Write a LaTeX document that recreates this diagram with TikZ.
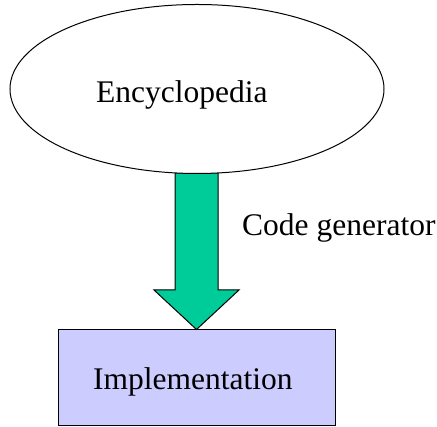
\documentclass[tikz,border=0pt]{standalone}
\usepackage{fontspec}
\setmainfont{Liberation Serif}
\usetikzlibrary{shapes.geometric,calc}
\definecolor{arrowgreen}{HTML}{00CC99}
\definecolor{implfill}{HTML}{CCCCFF}
\tikzset{
  lbl/.style={font=\fontsize{31.5}{36}\selectfont, inner sep=0pt, anchor=base west},
  outline/.style={draw=black, line width=1pt},
}
\begin{document}
\begin{tikzpicture}[x=1pt,y=1pt]
\useasboundingbox (0,0) rectangle (437,427);
% Implementation box
\node[outline, fill=implfill, rectangle, minimum width=277pt, minimum height=96pt, inner sep=0pt] (impl) at (196.5,49) {};
% Arrow (drawn before the ellipse so the ellipse outline sits on top)
\coordinate (atop) at (196.5,254);
\draw[outline, fill=arrowgreen, line join=miter]
  ($(atop)+(-21.5,0)$) -- ($(atop)+(21.5,0)$) -- ($(atop)+(21.5,-117)$) --
  ($(atop)+(42.5,-117)$) -- (impl.north) -- ($(atop)+(-42.5,-117)$) --
  ($(atop)+(-21.5,-117)$) -- cycle;
% Encyclopedia ellipse
\node[outline, ellipse, fill=white, minimum width=374pt, minimum height=169pt, inner sep=0pt] (ency) at (197,338) {};
% Texts
\node[lbl] (tency) at (96,324) {Encyclopedia};
\node[lbl] (timpl) at (93,37) {Implementation};
\node[lbl] (tcode) at (242,191) {Code generator};
\end{tikzpicture}
\end{document}
